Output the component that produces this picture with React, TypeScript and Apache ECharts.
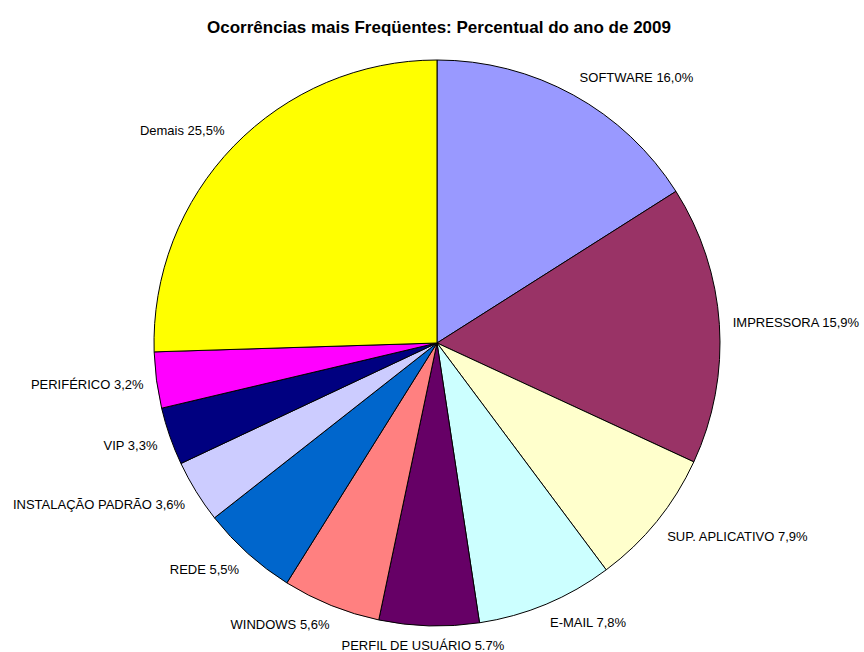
import React, { useEffect, useRef } from "react";
import * as echarts from "echarts";

const categories = [
  "SOFTWARE",
  "IMPRESSORA",
  "SUP. APLICATIVO",
  "E-MAIL",
  "PERFIL DE USUÁRIO",
  "WINDOWS",
  "REDE",
  "INSTALAÇÃO PADRÃO",
  "VIP",
  "PERIFÉRICO",
  "Demais",
];
const values = [16.0, 15.9, 7.9, 7.8, 5.7, 5.6, 5.5, 3.6, 3.3, 3.2, 25.5];
const valueLabels = ["16,0%", "15,9%", "7,9%", "7,8%", "5.7%", "5,6%", "5,5%", "3,6%", "3,3%", "3,2%", "25,5%"];
const colors = [
  "#9999FF",
  "#993366",
  "#FFFFCC",
  "#CCFFFF",
  "#660066",
  "#FF8080",
  "#0066CC",
  "#CCCCFF",
  "#000080",
  "#FF00FF",
  "#FFFF00",
];

const CX = 437;
const CY = 343;
const RADIUS = 283;
const LABEL_R = 296;

export default function App() {
  const ref = useRef<HTMLDivElement>(null);
  useEffect(() => {
    if (!ref.current) return;
    const chart = echarts.init(ref.current, null, { renderer: "svg" });
    const total = values.reduce((a, b) => a + b, 0);
    const mids: number[] = [];
    let acc = 0;
    values.forEach((v) => {
      mids.push(((acc + v / 2) / total) * Math.PI * 2);
      acc += v;
    });
    const clamp = (v: number) => Math.max(-1, Math.min(1, v));
    chart.setOption({
      animation: false,
      backgroundColor: "#ffffff",
      title: {
        text: "Ocorrências mais Freqüentes: Percentual do ano de 2009",
        left: 434,
        top: 14,
        textAlign: "center",
        textStyle: {
          fontFamily: "Liberation Sans, Arial, sans-serif",
          fontSize: 17,
          fontWeight: "bold",
          color: "#000",
        },
      },
      series: [
        {
          type: "pie",
          center: [CX, CY],
          radius: RADIUS,
          startAngle: 90,
          clockwise: true,
          avoidLabelOverlap: false,
          data: categories.map((c, i) => ({
            name: c,
            value: values[i],
            itemStyle: { color: colors[i] },
          })),
          itemStyle: { borderColor: "#000", borderWidth: 1 },
          label: {
            show: true,
            position: "outside",
            formatter: (p: any) => `${p.name} ${valueLabels[p.dataIndex]}`,
            fontFamily: "Liberation Sans, Arial, sans-serif",
            fontSize: 13,
            color: "#000",
          },
          labelLine: { show: false },
          emphasis: { disabled: true },
          labelLayout: (p: any) => {
            const a = mids[p.dataIndex];
            const ux = Math.sin(a);
            const uy = -Math.cos(a);
            const w = p.labelRect.width;
            const h = p.labelRect.height;
            return {
              x: CX + LABEL_R * ux + clamp(ux * 2.5) * (w / 2),
              y: CY + LABEL_R * uy + clamp(uy * 2.5) * (h / 2),
              align: "center",
              verticalAlign: "middle",
            };
          },
        },
      ],
    });
    return () => chart.dispose();
  }, []);
  return (
    <div
      ref={ref}
      style={{ position: "fixed", left: 0, top: 0, width: 864, height: 652, background: "#fff" }}
    />
  );
}
